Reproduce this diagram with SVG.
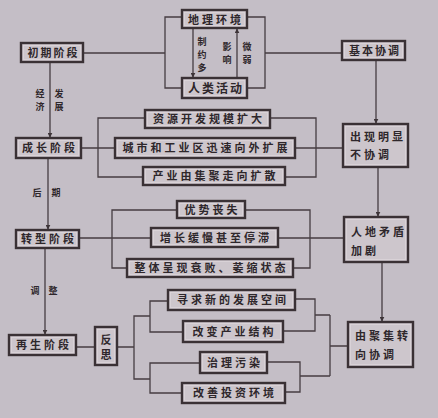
<svg xmlns="http://www.w3.org/2000/svg" width="438" height="418" viewBox="0 0 438 418">
<defs>
<marker id="ah" viewBox="0 0 8 8" refX="7" refY="4" markerWidth="5" markerHeight="5" orient="auto" markerUnits="userSpaceOnUse">
<path d="M0,0 L8,4 L0,8 z" fill="#3e3539"/>
</marker>
</defs>
<style>
.b{fill:#cdc6cc;stroke:#3a3135;stroke-width:2.4}
.bi{fill:none;stroke:#ddd5da;stroke-width:0.8}
.t{font-family:"Noto Sans CJK SC","Noto Sans CJK JP",sans-serif;font-size:11px;font-weight:bold;fill:#2e272b;letter-spacing:3px;text-anchor:middle}
.tl{font-family:"Noto Sans CJK SC","Noto Sans CJK JP",sans-serif;font-size:11px;font-weight:bold;fill:#2e272b;letter-spacing:3px}
.s{font-family:"Noto Sans CJK SC","Noto Sans CJK JP",sans-serif;font-size:9px;font-weight:bold;fill:#2e272b;text-anchor:middle}
.c{fill:none;stroke:#463d42;stroke-width:1.3}
</style>
<rect width="438" height="418" fill="#c4bec6"/>
<g id="connectors">
<path class="c" d="M83,53 H165 M182,17 H165 V88 H182"/>
<path class="c" d="M247,17 H265 V88 H247 M265,53 H342"/>
<line class="c" x1="193" y1="28" x2="193" y2="77" marker-end="url(#ah)"/>
<line class="c" x1="237" y1="78" x2="237" y2="29" marker-end="url(#ah)"/>
<line class="c" x1="50" y1="62" x2="50" y2="137" marker-end="url(#ah)"/>
<path class="c" d="M81,148 H115 M145,118 H98 V177 H143"/>
<path class="c" d="M270,118 H316 V177 H285 M295,148 H343"/>
<line class="c" x1="376" y1="60" x2="376" y2="123" marker-end="url(#ah)"/>
<line class="c" x1="378" y1="167" x2="378" y2="216" marker-end="url(#ah)"/>
<line class="c" x1="382" y1="262" x2="382" y2="321" marker-end="url(#ah)"/>
<line class="c" x1="48" y1="158" x2="48" y2="229" marker-end="url(#ah)"/>
<path class="c" d="M79,238 H151 M177,210 H112 V268 H127"/>
<path class="c" d="M245,210 H310 V268 H293 M277,238 H344"/>
<line class="c" x1="45" y1="248" x2="45" y2="334" marker-end="url(#ah)"/>
<path class="c" d="M76,347 H95 M117,347 H134 M150,316 H134 V379 H150 M168,301 H150 V332 H183 M200,363 H150 V393 H182"/>
<path class="c" d="M295,299 H315 V331 H283 M315,315 H330 M267,362 H300 V392 H285 M300,376 H330 M330,315 V376 M330,346 H348"/>
</g>
<g id="labels">
<text class="s" x="202" y="45">制</text><text class="s" x="202" y="58">约</text><text class="s" x="202" y="71">多</text>
<text class="s" x="227" y="50">影</text><text class="s" x="227" y="63">响</text>
<text class="s" x="247" y="50">微</text><text class="s" x="247" y="63">弱</text>
<text class="s" x="40" y="97">经</text><text class="s" x="40" y="110">济</text>
<text class="s" x="59" y="97">发</text><text class="s" x="59" y="110">展</text>
<text class="s" x="37" y="196">后</text><text class="s" x="56" y="196">期</text>
<text class="s" x="35" y="294">调</text><text class="s" x="53" y="294">整</text>
</g>
<g id="n-geo"><rect class="b" x="182" y="10" width="65" height="18"/><rect class="bi" x="184.5" y="12.5" width="60" height="13"/><text class="t" x="216" y="23.5">地理环境</text></g>
<g id="n-hum"><rect class="b" x="182" y="78" width="65" height="20"/><rect class="bi" x="184.5" y="80.5" width="60" height="15"/><text class="t" x="216" y="92.5" style="font-size:12px;letter-spacing:2px">人类活动</text></g>
<g id="n-init"><rect class="b" x="21" y="43" width="62" height="19"/><rect class="bi" x="23.5" y="45.5" width="57" height="14"/><text class="t" x="53.5" y="56.5" style="letter-spacing:2px">初期阶段</text></g>
<g id="n-basic"><rect class="b" x="342" y="41" width="63" height="19"/><rect class="bi" x="344.5" y="43.5" width="58" height="14"/><text class="t" x="375" y="54.5" style="letter-spacing:2px">基本协调</text></g>
<g id="n-grow"><rect class="b" x="16" y="138" width="65" height="20"/><rect class="bi" x="18.5" y="140.5" width="60" height="15"/><text class="t" x="50" y="152">成长阶段</text></g>
<g id="n-res"><rect class="b" x="145" y="110" width="125" height="18"/><rect class="bi" x="147.5" y="112.5" width="120" height="13"/><text class="t" x="209" y="123">资源开发规模扩大</text></g>
<g id="n-city"><rect class="b" x="115" y="138" width="180" height="20"/><rect class="bi" x="117.5" y="140.5" width="175" height="15"/><text class="t" x="206.5" y="152">城市和工业区迅速向外扩展</text></g>
<g id="n-ind"><rect class="b" x="143" y="167" width="142" height="18"/><rect class="bi" x="145.5" y="169.5" width="137" height="13"/><text class="t" x="215.5" y="180">产业由集聚走向扩散</text></g>
<g id="n-disc"><rect class="b" x="343" y="124" width="65" height="43"/><rect class="bi" x="345.5" y="126.5" width="60" height="38"/><text class="tl" x="350" y="141">出现明显</text><text class="tl" x="350" y="159">不协调</text></g>
<g id="n-trans"><rect class="b" x="16" y="230" width="63" height="18"/><rect class="bi" x="18.5" y="232.5" width="58" height="13"/><text class="t" x="49" y="243">转型阶段</text></g>
<g id="n-adv"><rect class="b" x="177" y="201" width="68" height="17"/><rect class="bi" x="179.5" y="203.5" width="63" height="12"/><text class="t" x="212.5" y="213.5">优势丧失</text></g>
<g id="n-slow"><rect class="b" x="151" y="228" width="127" height="19"/><rect class="bi" x="153.5" y="230.5" width="122" height="14"/><text class="t" x="216" y="241.5">增长缓慢甚至停滞</text></g>
<g id="n-whole"><rect class="b" x="127" y="259" width="166" height="18"/><rect class="bi" x="129.5" y="261.5" width="161" height="13"/><text class="t" x="211.5" y="272">整体呈现衰败、萎缩状态</text></g>
<g id="n-conf"><rect class="b" x="344" y="217" width="64" height="45"/><rect class="bi" x="346.5" y="219.5" width="59" height="40"/><text class="tl" x="351" y="236">人地矛盾</text><text class="tl" x="351" y="255">加剧</text></g>
<g id="n-regen"><rect class="b" x="9" y="335" width="67" height="20"/><rect class="bi" x="11.5" y="337.5" width="62" height="15"/><text class="t" x="44" y="349">再生阶段</text></g>
<g id="n-refl"><rect class="b" x="95" y="327" width="22" height="38"/><rect class="bi" x="97.5" y="329.5" width="17" height="33"/><text class="t" x="106" y="344" style="letter-spacing:0">反</text><text class="t" x="106" y="359" style="letter-spacing:0">思</text></g>
<g id="n-seek"><rect class="b" x="168" y="290" width="127" height="20"/><rect class="bi" x="170.5" y="292.5" width="122" height="15"/><text class="t" x="233" y="304">寻求新的发展空间</text></g>
<g id="n-chg"><rect class="b" x="183" y="321" width="100" height="21"/><rect class="bi" x="185.5" y="323.5" width="95" height="16"/><text class="t" x="234.5" y="335.5">改变产业结构</text></g>
<g id="n-poll"><rect class="b" x="200" y="352" width="67" height="21"/><rect class="bi" x="202.5" y="354.5" width="62" height="16"/><text class="t" x="235" y="366.5">治理污染</text></g>
<g id="n-inv"><rect class="b" x="182" y="383" width="103" height="20"/><rect class="bi" x="184.5" y="385.5" width="98" height="15"/><text class="t" x="235" y="397">改善投资环境</text></g>
<g id="n-coord"><rect class="b" x="348" y="322" width="65" height="45"/><rect class="bi" x="350.5" y="324.5" width="60" height="40"/><text class="tl" x="355" y="340">由聚集转</text><text class="tl" x="355" y="359">向协调</text></g>
</svg>
